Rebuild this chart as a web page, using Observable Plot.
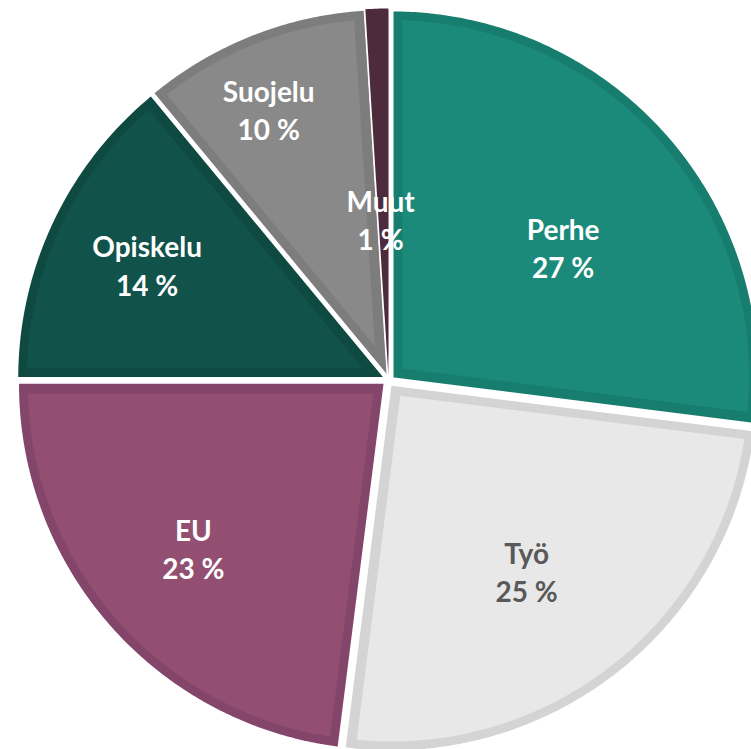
<!DOCTYPE html>
<html>
<head>
<meta charset="utf-8">
<script src="https://cdn.jsdelivr.net/npm/d3@7"></script>
<script src="https://cdn.jsdelivr.net/npm/@observablehq/plot@0.6"></script>
<style>
  html, body { margin: 0; padding: 0; background: #fff; }
  #chart svg { display: block; overflow: hidden; }
</style>
</head>
<body>
<div id="chart"></div>
<script>
// ---- data ----
const categories = ["Perhe", "Työ", "EU", "Opiskelu", "Suojelu", "Muut"];
const values = [27, 25, 23, 14, 10, 1];

// ---- styles / layout ----
const fillColors   = ["#1b8a7a", "#e8e8e8", "#934f72", "#11534a", "#898989", "#4e2a3d"];
const borderColors = ["#177e6f", "#d4d4d4", "#84456a", "#0f4a42", "#7d7d7d", "#4e2a3d"];
const textColors   = ["#ffffff", "#595959", "#ffffff", "#ffffff", "#ffffff", "#ffffff"];
const labelT = [0.54, 0.52, 0.51, 0.51, 0.44, 0.22];   // position along the slice angle
const labelR = [0.60, 0.64, 0.70, 0.73, 0.81, 0.44];   // fraction of radius

const W = 751, H = 749;
const cxPx = 388, cyPx = 380, Rpx = 367;
const border = 10 / Rpx;     // inner border width, in radius units
const explode = 5 / Rpx;     // slice offset

const arcs = d3.pie().sort(null).startAngle(0).endAngle(2 * Math.PI)(values);
const pt = (a, r, ox = 0, oy = 0) => ({x: ox + r * Math.sin(a), y: oy - r * Math.cos(a)});

const outer = [], inner = [], labels = [];
arcs.forEach((arc, i) => {
  const a0 = arc.startAngle, a1 = arc.endAngle, s = a1 - a0, mid = (a0 + a1) / 2;
  const o = pt(mid, explode);
  const steps = Math.max(4, Math.ceil((s * 180 / Math.PI) * 2));
  // outer polygon
  const op = [o];
  for (let k = 0; k <= steps; k++) op.push(pt(a0 + s * k / steps, 1, o.x, o.y));
  op.forEach((p, j) => outer.push({...p, key: i, order: j, color: borderColors[i]}));
  // inner polygon (inset by the border width)
  if (s > 0.2) {
    const ai = pt(mid, border / Math.sin(s / 2), o.x, o.y);
    const r2 = 1 - border;
    const d = Math.asin(border / r2);
    const ip = [ai];
    for (let k = 0; k <= steps; k++) ip.push(pt(a0 + d + (s - 2 * d) * k / steps, r2, o.x, o.y));
    ip.forEach((p, j) => inner.push({...p, key: i, order: j, color: fillColors[i]}));
  } else {
    op.forEach((p, j) => inner.push({...p, key: i, order: j, color: fillColors[i]}));
  }
  const la = a0 + s * labelT[i];
  labels.push({...pt(la, labelR[i]), text: `${categories[i]}\n${values[i]} %`, color: textColors[i]});
});

const chart = Plot.plot({
  width: W,
  height: H,
  margin: 0,
  x: {domain: [-cxPx / Rpx, (W - cxPx) / Rpx], range: [0, W], axis: null},
  y: {domain: [-cyPx / Rpx, (H - cyPx) / Rpx], range: [0, H], axis: null},
  color: {type: "identity"},
  style: {background: "#ffffff", overflow: "hidden"},
  marks: [
    Plot.line(outer, {x: "x", y: "y", z: "key", fill: "color", stroke: "#ffffff", strokeWidth: 2.5, strokeLinejoin: "miter", curve: "linear"}),
    Plot.line(inner, {x: "x", y: "y", z: "key", fill: "color", stroke: null, curve: "linear"}),
    Plot.text(labels, {
      x: "x", y: "y", text: "text", fill: "color",
      fontSize: 28, fontWeight: "bold", fontFamily: "Lato, 'Open Sans', sans-serif",
      lineHeight: 1.36, textAnchor: "middle"
    })
  ]
});
document.getElementById("chart").appendChild(chart);
</script>
</body>
</html>
